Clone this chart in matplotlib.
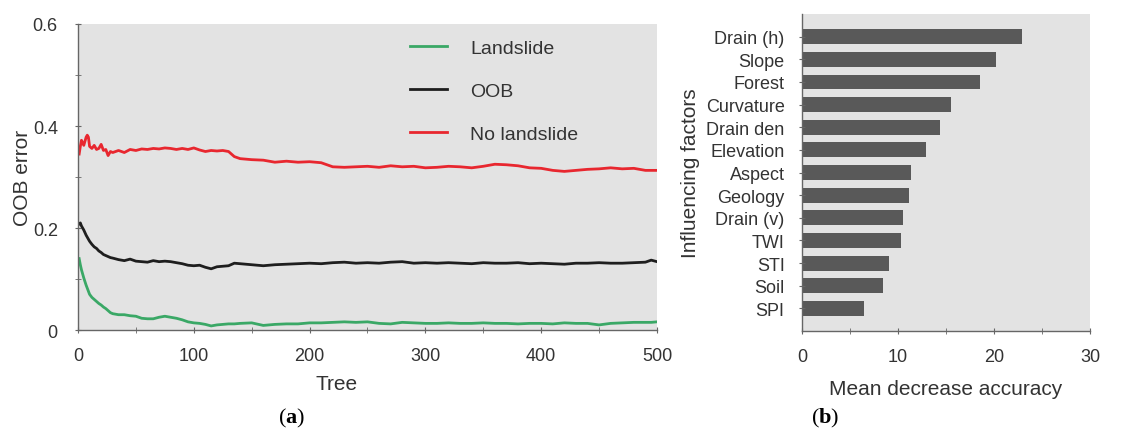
from matplotlib import pyplot as plt
from matplotlib import ticker
import numpy as np


FONT = ["Liberation Sans", "DejaVu Sans"]
BG = "#e3e3e3"
SPINE = "#666666"

# (a) OOB error vs number of trees
TREES = [1, 2, 3, 5, 7, 8, 9, 10, 12, 14, 16, 18, 20, 22, 24, 26, 28, 30, 35, 40,
         45, 50, 55, 60, 65, 70, 75, 80, 85, 90, 95, 100, 105, 110, 115, 120, 125,
         130, 135, 140, 150, 160, 170, 180, 190, 200, 210, 220, 230, 240, 250, 260,
         270, 280, 290, 300, 310, 320, 330, 340, 350, 360, 370, 380, 390, 400, 410,
         420, 430, 440, 450, 460, 470, 480, 490, 495, 500]
NO_LANDSLIDE = [0.345, 0.360, 0.372, 0.362, 0.378, 0.382, 0.378, 0.360, 0.356, 0.362,
                0.354, 0.356, 0.364, 0.352, 0.354, 0.342, 0.350, 0.348, 0.352, 0.348,
                0.354, 0.352, 0.355, 0.354, 0.356, 0.355, 0.357, 0.356, 0.354, 0.356,
                0.354, 0.357, 0.353, 0.350, 0.352, 0.351, 0.352, 0.350, 0.340, 0.336,
                0.334, 0.333, 0.329, 0.331, 0.329, 0.330, 0.328, 0.320, 0.319, 0.320,
                0.321, 0.319, 0.322, 0.320, 0.321, 0.318, 0.319, 0.321, 0.320, 0.318,
                0.321, 0.325, 0.324, 0.322, 0.318, 0.317, 0.313, 0.311, 0.313, 0.315,
                0.316, 0.318, 0.316, 0.317, 0.313, 0.313, 0.313]
OOB = [0.208, 0.210, 0.204, 0.196, 0.186, 0.182, 0.178, 0.174, 0.168, 0.163,
       0.160, 0.155, 0.152, 0.148, 0.146, 0.144, 0.142, 0.141, 0.138, 0.136,
       0.139, 0.135, 0.134, 0.133, 0.136, 0.134, 0.135, 0.134, 0.132, 0.130,
       0.127, 0.126, 0.127, 0.123, 0.120, 0.124, 0.125, 0.126, 0.131, 0.130,
       0.128, 0.126, 0.128, 0.129, 0.130, 0.131, 0.130, 0.132, 0.133, 0.131,
       0.132, 0.131, 0.133, 0.134, 0.131, 0.132, 0.131, 0.132, 0.131, 0.130,
       0.132, 0.131, 0.131, 0.132, 0.130, 0.131, 0.130, 0.129, 0.131, 0.131,
       0.132, 0.131, 0.131, 0.132, 0.133, 0.137, 0.134]
LANDSLIDE = [0.140, 0.128, 0.118, 0.102, 0.088, 0.082, 0.076, 0.070, 0.064, 0.060,
             0.056, 0.052, 0.049, 0.045, 0.042, 0.038, 0.034, 0.032, 0.030, 0.030,
             0.028, 0.027, 0.023, 0.022, 0.022, 0.025, 0.027, 0.025, 0.023, 0.020,
             0.016, 0.014, 0.013, 0.011, 0.008, 0.010, 0.011, 0.012, 0.012, 0.013,
             0.014, 0.009, 0.011, 0.012, 0.012, 0.014, 0.014, 0.015, 0.016, 0.015,
             0.016, 0.013, 0.012, 0.015, 0.014, 0.013, 0.013, 0.014, 0.013, 0.013,
             0.014, 0.013, 0.013, 0.012, 0.013, 0.013, 0.012, 0.014, 0.013, 0.013,
             0.010, 0.013, 0.014, 0.015, 0.015, 0.015, 0.016]

# (b) variable importance, top to bottom
FACTORS = ["Drain (h)", "Slope", "Forest", "Curvature", "Drain den", "Elevation",
           "Aspect", "Geology", "Drain (v)", "TWI", "STI", "Soil", "SPI"]
ACCURACY = [22.9, 20.2, 18.5, 15.5, 14.4, 12.9, 11.3, 11.1, 10.5, 10.3, 9.1, 8.4, 6.5]


def style_axes(ax):
    ax.set_facecolor(BG)
    for s in ["top", "right"]:
        ax.spines[s].set_visible(False)
    for s in ["left", "bottom"]:
        ax.spines[s].set_color(SPINE)
        ax.spines[s].set_linewidth(1.0)
    ax.tick_params(which="both", direction="inout", color=SPINE, labelcolor="#333333")
    ax.tick_params(which="major", length=5, labelsize=13)
    ax.tick_params(which="minor", length=4)


plt.rcParams.update({"font.family": FONT,
                     "mathtext.fontset": "custom",
                     "mathtext.rm": "Liberation Serif",
                     "mathtext.bf": "Liberation Serif:bold"})
fig = plt.figure(figsize=(11.42, 4.31), dpi=100)

# ---- (a)
ax1 = fig.add_axes([0.0683, 0.232, 0.507, 0.710])
style_axes(ax1)
ax1.plot(TREES, LANDSLIDE, color="#3aa866", lw=2, label="Landslide")
ax1.plot(TREES, OOB, color="#1e1e1e", lw=2, label="OOB")
ax1.plot(TREES, NO_LANDSLIDE, color="#e8272f", lw=2, label="No landslide")
ax1.set_xlim(0, 500)
ax1.set_ylim(0, 0.6)
ax1.xaxis.set_major_locator(ticker.MultipleLocator(100))
ax1.xaxis.set_minor_locator(ticker.MultipleLocator(50))
ax1.yaxis.set_major_locator(ticker.MultipleLocator(0.2))
ax1.yaxis.set_minor_locator(ticker.MultipleLocator(0.1))
ax1.yaxis.set_major_formatter(ticker.FuncFormatter(lambda v, p: "0" if v == 0 else f"{v:.1f}"))
ax1.tick_params(axis="y", pad=12)
ax1.tick_params(axis="x", pad=10)
ax1.set_xlabel("Tree", fontsize=15, color="#333333")
ax1.xaxis.set_label_coords(0.447, -0.145)
ax1.set_ylabel("OOB error", fontsize=15, color="#333333")
ax1.yaxis.set_label_coords(-0.079, 0.5)
ax1.legend(loc="upper left", bbox_to_anchor=(0.573, 0.95), frameon=False,
           fontsize=14, borderpad=0, borderaxespad=0, handlelength=1.9,
           handletextpad=1.2, labelspacing=1.3, labelcolor="#333333")

# ---- (b)
ax2 = fig.add_axes([0.7023, 0.2297, 0.2522, 0.7353])
style_axes(ax2)
y = np.arange(len(FACTORS))
ax2.barh(y, ACCURACY, height=0.66, color="#595959")
ax2.set_ylim(len(FACTORS), -1)
ax2.set_xlim(0, 30)
ax2.set_yticks(y)
ax2.set_yticklabels(FACTORS)
ax2.xaxis.set_major_locator(ticker.MultipleLocator(10))
ax2.xaxis.set_minor_locator(ticker.MultipleLocator(5))
ax2.tick_params(axis="y", pad=10)
ax2.tick_params(axis="x", pad=10)
ax2.set_xlabel("Mean decrease accuracy", fontsize=15, color="#333333")
ax2.xaxis.set_label_coords(0.5, -0.15)
ax2.set_ylabel("Influencing factors", fontsize=15, color="#333333")
ax2.yaxis.set_label_coords(-0.354, 0.5)

fig.text(0.255, 0.03, r"($\mathbf{a}$)", fontsize=16, ha="center", va="center",
         family="Liberation Serif")
fig.text(0.7225, 0.03, r"($\mathbf{b}$)", fontsize=16, ha="center", va="center",
         family="Liberation Serif")

plt.savefig("out.png", dpi=100)
plt.close()
